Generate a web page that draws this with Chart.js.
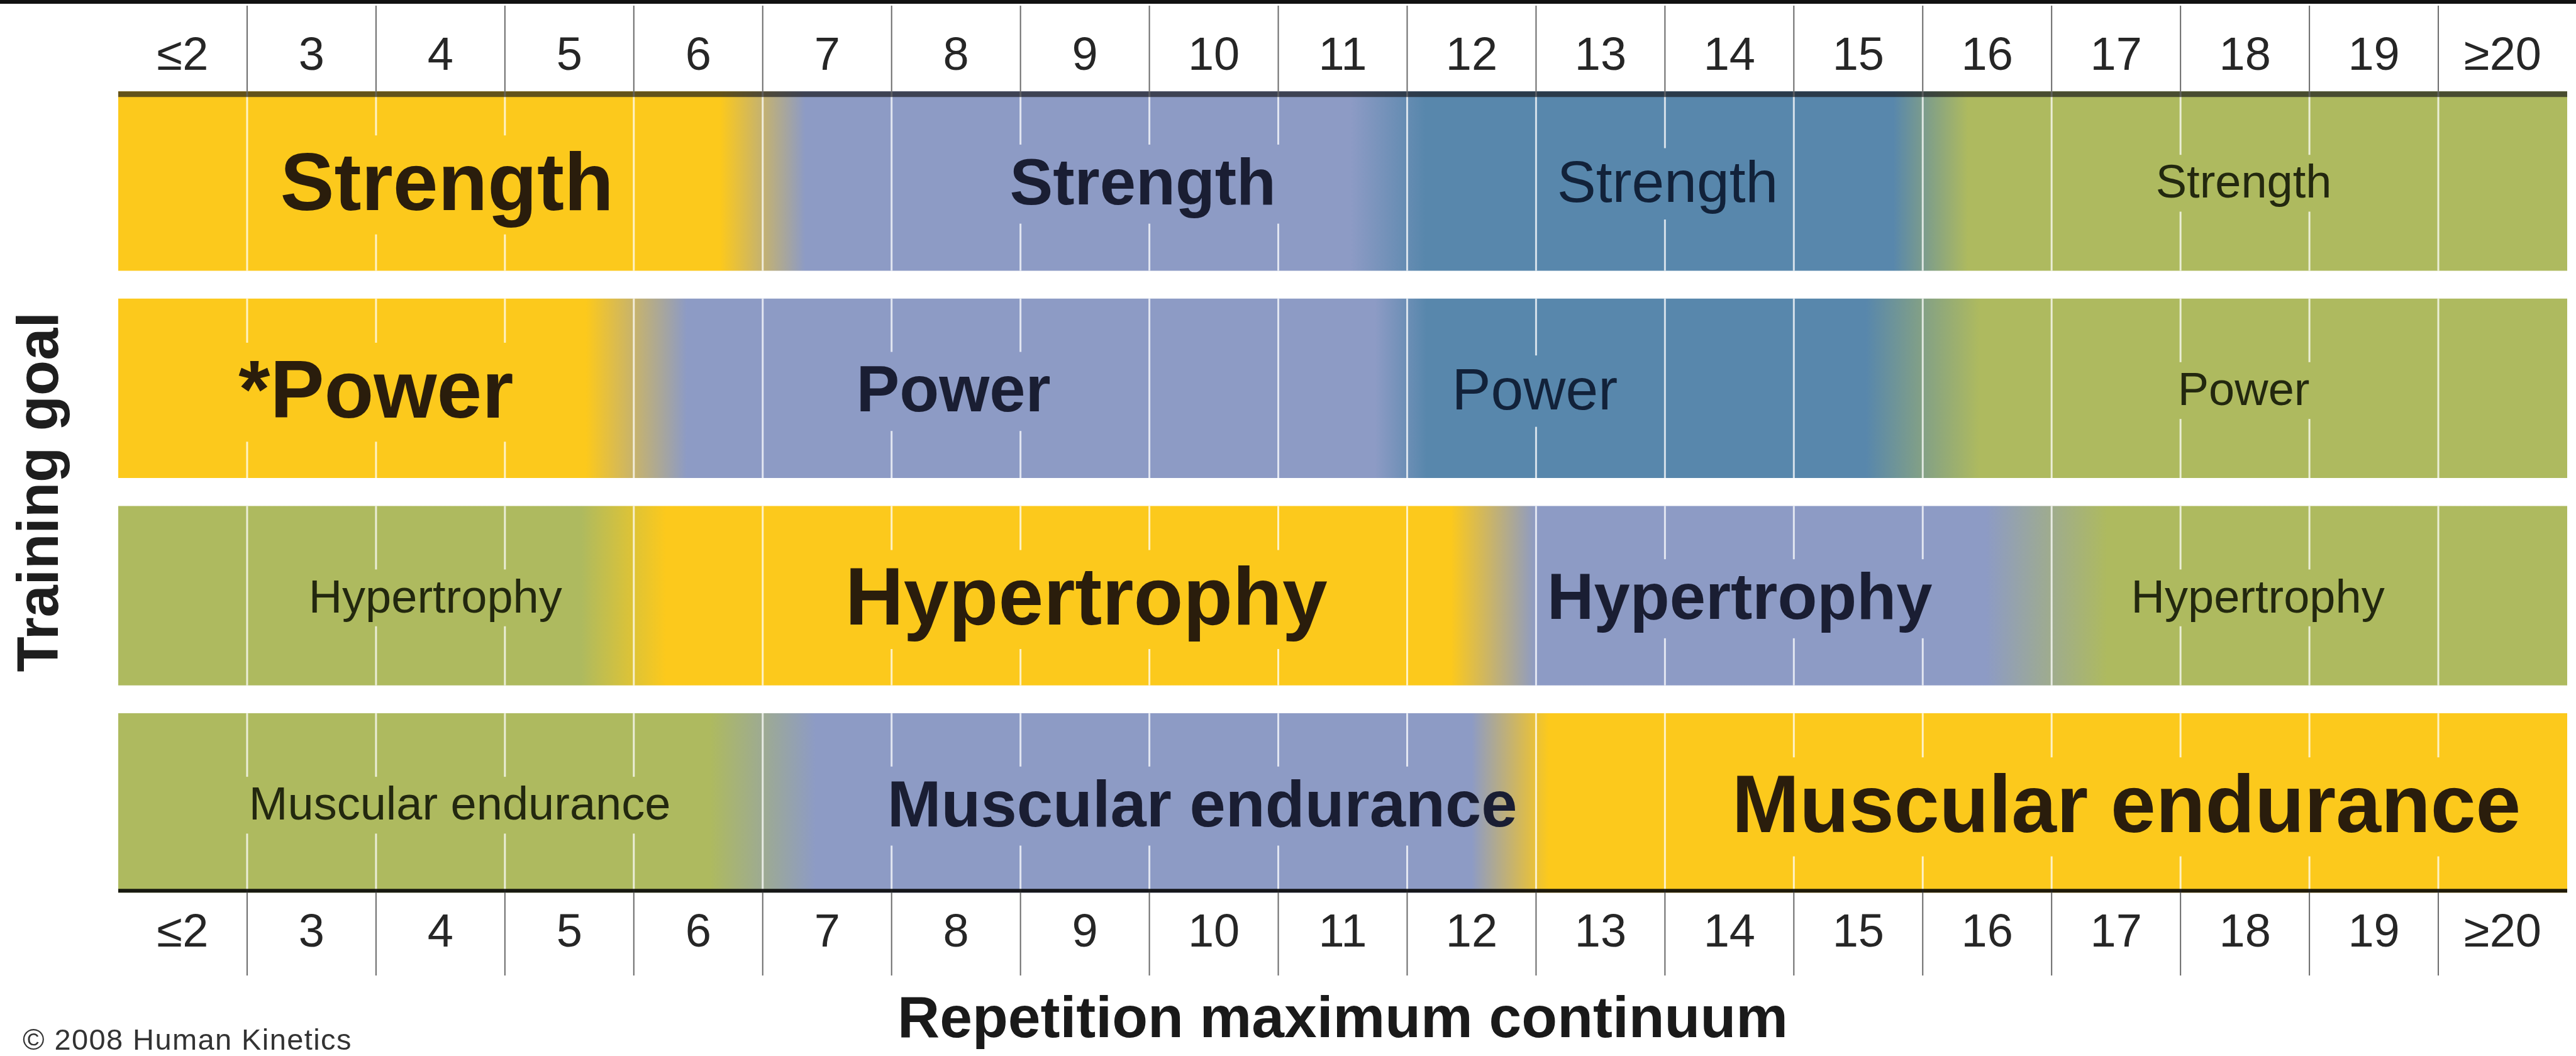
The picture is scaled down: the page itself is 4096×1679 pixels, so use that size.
<!DOCTYPE html>
<html><head><meta charset="utf-8">
<script src="https://cdn.jsdelivr.net/npm/chart.js@4.4.1/dist/chart.umd.min.js"></script>
<style>html,body{margin:0;padding:0;background:#fff;overflow:hidden}canvas{display:block}</style>
</head><body>
<canvas id="c" width="4096" height="1679"></canvas>
<script>
// ---------------- data ----------------
const repLabels = ['≤2','3','4','5','6','7','8','9','10','11','12','13','14','15','16','17','18','19','≥20'];
const goals = ['Strength','Power','Hypertrophy','Muscular endurance'];
// zone boundaries along the RM continuum (column units: 0 = left of "≤2", 19 = right of "≥20")
const strengthBounds    = [0, 5, 10, 14, 19];
const powerBounds       = [0, 4, 10, 14, 19];
const hypertrophyBounds = [0, 4, 11, 15, 19];
const enduranceBounds   = [0, 5, 11, 19];
// emphasis level of each zone (4 = primary goal ... 1 = least)
const strengthLevels    = [4, 3, 2, 1];
const powerLevels       = [4, 3, 2, 1];
const hypertrophyLevels = [1, 4, 3, 1];
const enduranceLevels   = [1, 3, 4];
// text shown in each zone
const strengthTexts    = ['Strength','Strength','Strength','Strength'];
const powerTexts       = ['*Power','Power','Power','Power'];
const hypertrophyTexts = ['Hypertrophy','Hypertrophy','Hypertrophy','Hypertrophy'];
const enduranceTexts   = ['Muscular endurance','Muscular endurance','Muscular endurance'];
const xTitle = 'Repetition maximum continuum';
const yTitle = 'Training goal';
const credit = '© 2008 Human Kinetics';

// ---------------- style ----------------
const FONT = "'Liberation Sans', Arial, Helvetica, sans-serif";
Chart.defaults.font.family = FONT;
const levelColor = {4:'#FCC91C', 3:'#8D9BC5', 2:'#5887AC', 1:'#AEBA5F'};
const levelInk   = {4:'#2a1d0c', 3:'#1a1e33', 2:'#12223a', 1:'#23280f'};
const levelFont  = {4:{size:129, weight:'bold'}, 3:{size:103, weight:'bold'}, 2:{size:93, weight:'normal'}, 1:{size:74, weight:'normal'}};
// label anchor (column units) for each zone text
const labelAt = [[2.55, 7.95, 12.02, 16.49], [2.0, 6.48, 10.99, 16.49], [2.46, 7.51, 12.58, 16.6], [2.65, 8.41, 15.58]];
// colour blend at each inner boundary: [centre offset, half width] in column units
const blend = [
  [[0, 0.33], [-0.15, 0.29], [0.06, 0.29]],
  [[0.02, 0.39], [-0.05, 0.2], [0, 0.44]],
  [[-0.08, 0.33], [-0.33, 0.33], [-0.04, 0.47]],
  [[0, 0.41], [-0.2, 0.3]]
];

const rows = [
  {bounds: strengthBounds, levels: strengthLevels, texts: strengthTexts},
  {bounds: powerBounds, levels: powerLevels, texts: powerTexts},
  {bounds: hypertrophyBounds, levels: hypertrophyLevels, texts: hypertrophyTexts},
  {bounds: enduranceBounds, levels: enduranceLevels, texts: enduranceTexts}
];

function rowGradient(chart, r) {
  const xs = chart.scales.x;
  const row = rows[r];
  const b0 = row.bounds[0], b1 = row.bounds[row.bounds.length - 1];
  const g = chart.ctx.createLinearGradient(xs.getPixelForValue(b0), 0, xs.getPixelForValue(b1), 0);
  const pos = v => Math.min(1, Math.max(0, (v - b0) / (b1 - b0)));
  g.addColorStop(0, levelColor[row.levels[0]]);
  for (let k = 1; k < row.levels.length; k++) {
    const [off, hw] = blend[r][k - 1];
    const c = row.bounds[k] + off;
    g.addColorStop(pos(c - hw), levelColor[row.levels[k - 1]]);
    g.addColorStop(pos(c + hw), levelColor[row.levels[k]]);
  }
  g.addColorStop(1, levelColor[row.levels[row.levels.length - 1]]);
  return g;
}

function cut(segs, a, b) {
  const out = [];
  segs.forEach(([s, e]) => {
    if (Math.min(e, a) > s) out.push([s, Math.min(e, a)]);
    if (e > Math.max(s, b)) out.push([Math.max(s, b), e]);
  });
  return out;
}

const overlay = {
  id: 'overlay',
  beforeDraw(chart) {
    const {ctx, width, height} = chart;
    ctx.save();
    ctx.fillStyle = '#fff'; ctx.fillRect(0, 0, width, height);
    ctx.fillStyle = '#111'; ctx.fillRect(0, 0, width, 6);
    ctx.restore();
  },
  afterDatasetsDraw(chart) {
    const ctx = chart.ctx, xs = chart.scales.x, ys = chart.scales.y;
    const meta = chart.getDatasetMeta(0);
    const geo = meta.data.map(el => {
      const p = el.getProps(['x', 'y', 'base', 'height'], true);
      return {l: Math.min(p.x, p.base), r: Math.max(p.x, p.base), t: p.y - p.height / 2, b: p.y + p.height / 2, cy: p.y};
    });
    const items = [];
    ctx.save();
    rows.forEach((row, r) => {
      row.texts.forEach((txt, k) => {
        const lv = row.levels[k], f = levelFont[lv];
        ctx.font = `${f.weight} ${f.size}px ${FONT}`;
        const w = ctx.measureText(txt).width;
        const cx = xs.getPixelForValue(labelAt[r][k]);
        const cy = ys.getPixelForValue(r);
        const base = cy + 0.358 * f.size;
        items.push({txt, lv, f, cx, base,
          box: [cx - w / 2 - 8, base - 0.92 * f.size, cx + w / 2 + 8, base + 0.3 * f.size]});
      });
    });
    // light column dividers inside the bars
    ctx.strokeStyle = 'rgba(255,255,255,0.75)';
    ctx.lineWidth = 3;
    geo.forEach(g => {
      for (let b = 1; b < repLabels.length; b++) {
        const x = xs.getPixelForValue(b);
        let segs = [[g.t, g.b]];
        items.forEach(it => { if (x > it.box[0] && x < it.box[2]) segs = cut(segs, it.box[1], it.box[3]); });
        segs.forEach(([s, e]) => { ctx.beginPath(); ctx.moveTo(x, s); ctx.lineTo(x, e); ctx.stroke(); });
      }
    });
    // column dividers in header and footer
    ctx.strokeStyle = '#6a6a6a';
    ctx.lineWidth = 2;
    for (let b = 1; b < repLabels.length; b++) {
      const x = xs.getPixelForValue(b);
      ctx.beginPath(); ctx.moveTo(x, 9); ctx.lineTo(x, geo[0].t); ctx.stroke();
      ctx.beginPath(); ctx.moveTo(x, geo[geo.length - 1].b); ctx.lineTo(x, 1551); ctx.stroke();
    }
    // dark rules at top of first bar and bottom of last bar
    const g0 = geo[0], g3 = geo[geo.length - 1];
    ctx.fillStyle = 'rgba(20,20,25,0.66)';
    ctx.fillRect(g0.l, g0.t, g0.r - g0.l, 9);
    ctx.fillStyle = 'rgba(8,8,8,0.9)';
    ctx.fillRect(g3.l, g3.b - 6, g3.r - g3.l, 6);
    // zone texts
    ctx.textAlign = 'center';
    ctx.textBaseline = 'alphabetic';
    items.forEach(it => {
      ctx.font = `${it.f.weight} ${it.f.size}px ${FONT}`;
      ctx.fillStyle = levelInk[it.lv];
      ctx.fillText(it.txt, it.cx, it.base);
    });
    ctx.restore();
  },
  afterDraw(chart) {
    const ctx = chart.ctx;
    ctx.save();
    ctx.font = `normal 47px ${FONT}`;
    try { ctx.letterSpacing = '1.4px'; } catch (e) {}
    ctx.fillStyle = '#333';
    ctx.textAlign = 'left';
    ctx.textBaseline = 'alphabetic';
    ctx.fillText(credit, 36, 1669);
    ctx.restore();
  }
};

const tickCfg = (pad) => ({
  autoSkip: false, maxRotation: 0, minRotation: 0, padding: pad,
  color: '#262626', font: {size: 74},
  callback: (v, i) => repLabels[i]
});
const colTicks = s => { s.ticks = repLabels.map((_, i) => ({value: i + 0.5})); };

new Chart(document.getElementById('c'), {
  type: 'bar',
  data: {
    labels: goals,
    datasets: [{
      label: 'Training goal',
      data: rows.map(r => [r.bounds[0], r.bounds[r.bounds.length - 1]]),
      backgroundColor: ctx => (ctx.type === 'data' && ctx.chart.chartArea) ? rowGradient(ctx.chart, ctx.dataIndex) : levelColor[1],
      borderWidth: 0,
      borderSkipped: false,
      barPercentage: 0.865,
      categoryPercentage: 1
    }]
  },
  options: {
    responsive: false,
    animation: false,
    indexAxis: 'y',
    layout: {padding: {left: 0, right: 14, top: 0, bottom: 0}},
    plugins: {legend: {display: false}, tooltip: {enabled: false}, title: {display: false}},
    scales: {
      x: {
        type: 'linear', position: 'bottom', min: 0, max: 19, bounds: 'data',
        afterBuildTicks: colTicks,
        ticks: tickCfg(-1),
        grid: {display: false, drawTicks: false},
        border: {display: false},
        title: {display: true, text: xTitle, color: '#1a1a1a', font: {size: 93, weight: 'bold'}, padding: {top: 0, bottom: 0}},
        afterFit: s => { s.height = 237.5; }
      },
      x2: {
        type: 'linear', position: 'top', min: 0, max: 19, bounds: 'data',
        afterBuildTicks: colTicks,
        ticks: tickCfg(-12),
        grid: {display: false, drawTicks: false},
        border: {display: false},
        afterFit: s => { s.height = 123; }
      },
      y: {
        type: 'category',
        ticks: {display: false},
        grid: {display: false, drawTicks: false},
        border: {display: false},
        title: {display: true, text: yTitle, color: '#1e1e1e', font: {size: 92, weight: 'bold'}, padding: {top: 11, bottom: 0}},
        afterFit: s => { s.width = 188; }
      }
    }
  },
  plugins: [overlay]
});
</script>
</body></html>
